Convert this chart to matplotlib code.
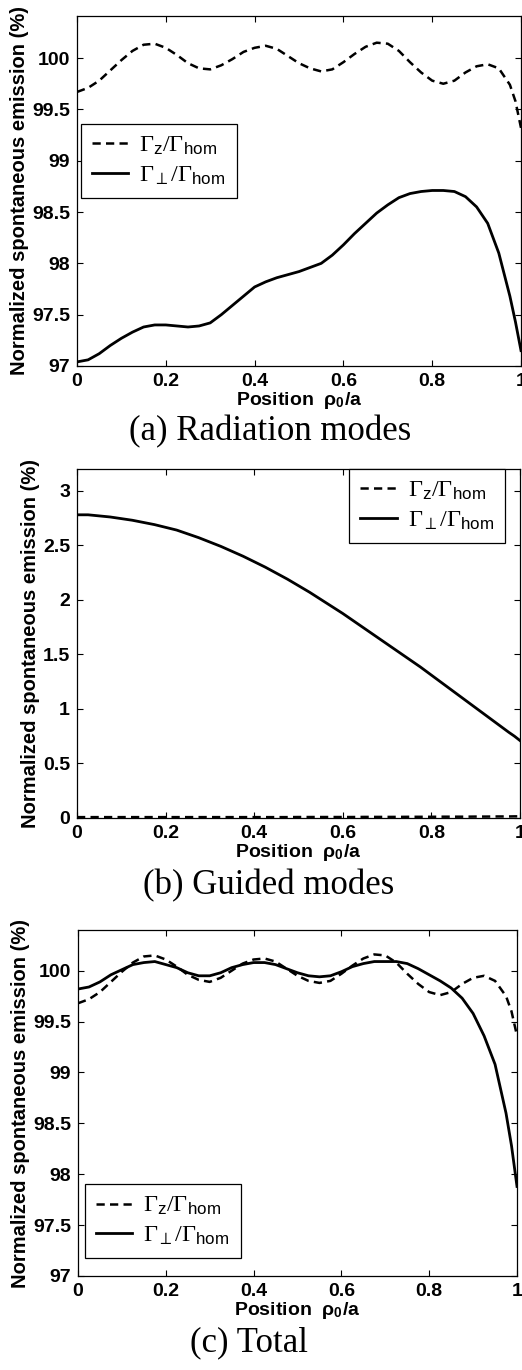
import numpy as np
import matplotlib
matplotlib.use('Agg')
from matplotlib import pyplot as plt

plt.rcParams['font.family'] = ['Liberation Sans', 'DejaVu Sans']
plt.rcParams['mathtext.fontset'] = 'custom'
plt.rcParams['mathtext.rm'] = 'Liberation Serif'
plt.rcParams['mathtext.it'] = 'Liberation Serif:italic'
plt.rcParams['mathtext.sf'] = 'Liberation Sans'
plt.rcParams['mathtext.bf'] = 'Liberation Sans:bold'

# position rho0/a
pos = [0.000, 0.025, 0.050, 0.075, 0.100, 0.125, 0.150, 0.175, 0.200, 0.225,
       0.250, 0.275, 0.300, 0.325, 0.350, 0.375, 0.400, 0.425, 0.450, 0.475,
       0.500, 0.525, 0.550, 0.575, 0.600, 0.625, 0.650, 0.675, 0.700, 0.725,
       0.750, 0.775, 0.800, 0.825, 0.850, 0.875, 0.900, 0.925, 0.950, 0.975,
       0.9875, 1.000]

# (a) radiation modes
rad_z = [99.67, 99.71, 99.78, 99.88, 99.98, 100.07, 100.13, 100.14, 100.10, 100.03,
         99.95, 99.90, 99.89, 99.93, 99.99, 100.06, 100.10, 100.12, 100.09, 100.02,
         99.95, 99.90, 99.87, 99.89, 99.96, 100.04, 100.11, 100.15, 100.14, 100.07,
         99.96, 99.86, 99.78, 99.75, 99.78, 99.86, 99.92, 99.94, 99.90, 99.74,
         99.58, 99.32]
rad_perp = [97.04, 97.06, 97.12, 97.20, 97.27, 97.33, 97.38, 97.40, 97.40, 97.39,
            97.38, 97.39, 97.42, 97.50, 97.59, 97.68, 97.77, 97.82, 97.86, 97.89,
            97.92, 97.96, 98.00, 98.08, 98.18, 98.29, 98.39, 98.49, 98.57, 98.64,
            98.68, 98.70, 98.71, 98.71, 98.70, 98.65, 98.55, 98.39, 98.10, 97.68,
            97.43, 97.15]

# (b) guided modes
gui_z = [0.008, 0.008, 0.008, 0.008, 0.008, 0.008, 0.008, 0.008, 0.008, 0.008,
         0.008, 0.008, 0.008, 0.008, 0.008, 0.008, 0.008, 0.008, 0.008, 0.008,
         0.009, 0.009, 0.009, 0.009, 0.009, 0.009, 0.010, 0.010, 0.010, 0.010,
         0.011, 0.011, 0.011, 0.012, 0.012, 0.012, 0.013, 0.013, 0.014, 0.014,
         0.015, 0.015]
gui_perp = [2.78, 2.78, 2.77, 2.76, 2.745, 2.73, 2.71, 2.69, 2.665, 2.64,
            2.605, 2.57, 2.53, 2.49, 2.445, 2.40, 2.35, 2.30, 2.245, 2.19,
            2.13, 2.07, 2.005, 1.94, 1.875, 1.805, 1.735, 1.665, 1.595, 1.525,
            1.455, 1.385, 1.31, 1.235, 1.16, 1.085, 1.01, 0.935, 0.86, 0.785,
            0.75, 0.71]

# (c) total
tot_z = [99.68, 99.72, 99.79, 99.89, 99.99, 100.08, 100.14, 100.15, 100.11, 100.04,
         99.96, 99.91, 99.89, 99.93, 100.00, 100.07, 100.11, 100.12, 100.09, 100.02,
         99.95, 99.90, 99.88, 99.90, 99.97, 100.05, 100.12, 100.16, 100.15, 100.08,
         99.97, 99.87, 99.79, 99.76, 99.79, 99.87, 99.93, 99.95, 99.90, 99.75,
         99.60, 99.36]
tot_perp = [99.82, 99.84, 99.89, 99.96, 100.01, 100.06, 100.08, 100.09, 100.06, 100.03,
            99.98, 99.95, 99.95, 99.98, 100.03, 100.06, 100.08, 100.08, 100.06, 100.02,
            99.98, 99.95, 99.94, 99.95, 99.99, 100.04, 100.07, 100.09, 100.09, 100.09,
            100.07, 100.02, 99.96, 99.90, 99.83, 99.73, 99.58, 99.36, 99.08, 98.60,
            98.28, 97.88]

xticks = [0, 0.2, 0.4, 0.6, 0.8, 1]
xticklabels = ['0', '0.2', '0.4', '0.6', '0.8', '1']
yticks_pct = [97, 97.5, 98, 98.5, 99, 99.5, 100]
yticklabels_pct = ['97', '97.5', '98', '98.5', '99', '99.5', '100']
yticks_gui = [0, 0.5, 1, 1.5, 2, 2.5, 3]
yticklabels_gui = ['0', '0.5', '1', '1.5', '2', '2.5', '3']

captions = ['(a) Radiation modes', '(b) Guided modes', '(c) Total']
lab_z = r'$\Gamma_{\mathsf{z}}/\Gamma_{\mathsf{hom}}$'
lab_perp = r'$\Gamma_{\perp}/\Gamma_{\mathsf{hom}}$'

W, H = 522, 1370
fig = plt.figure(figsize=(W / 100, H / 100), dpi=100)

# axes boxes in pixels: left, top, right, bottom
boxes = [(77, 16, 521, 366), (77, 469, 520, 818), (78, 930, 517, 1276)]
ylims = [(97, 100.41), (0, 3.2), (97, 100.4)]
series = [(rad_z, rad_perp), (gui_z, gui_perp), (tot_z, tot_perp)]
leg_loc = ['upper left', 'upper right', 'lower left']
leg_anchor = [(0.009, 0.692), (0.966, 1.0), (0.016, 0.052)]
cap_pos = [(270, 432), (269, 886), (249, 1343)]

for i in range(3):
    l, t, r, b = boxes[i]
    ax = fig.add_axes([l / W, 1 - b / H, (r - l) / W, (b - t) / H])
    z, perp = series[i]
    ax.plot(pos, z, color='black', lw=1.8, linestyle=(0, (3.3, 2.1)), label=lab_z)
    ax.plot(pos, perp, color='black', lw=2.0, solid_joinstyle='round', label=lab_perp)
    ax.set_xlim(0, 1)
    ax.set_ylim(*ylims[i])
    ax.set_xticks(xticks)
    ax.set_xticklabels(xticklabels, fontweight='bold')
    if i == 1:
        ax.set_yticks(yticks_gui)
        ax.set_yticklabels(yticklabels_gui, fontweight='bold')
    else:
        ax.set_yticks(yticks_pct)
        ax.set_yticklabels(yticklabels_pct, fontweight='bold')
    ax.tick_params(direction='in', top=True, right=True, length=4, width=0.8,
                   labelsize=14, pad=5)
    for s in ax.spines.values():
        s.set_linewidth(0.9)
    ax.set_xlabel('Position  ρ$_{\\mathbf{0}}$/a', fontsize=14, fontweight='bold',
                  labelpad=0)
    ax.set_ylabel('Normalized spontaneous emission (%)', fontsize=14.5,
                  fontweight='bold', labelpad=2)
    leg = ax.legend(loc=leg_loc[i], bbox_to_anchor=leg_anchor[i], borderaxespad=0,
                    fontsize=17.5, fancybox=False, framealpha=1, edgecolor='black',
                    handlelength=1.5, handletextpad=0.45, labelspacing=0.3,
                    borderpad=0.45)
    leg.get_frame().set_linewidth(0.9)
    cx, cy = cap_pos[i]
    fig.text(cx / W, 1 - cy / H, captions[i], family='Liberation Serif',
             fontsize=25, ha='center', va='center')

plt.savefig('out.png', dpi=100)
